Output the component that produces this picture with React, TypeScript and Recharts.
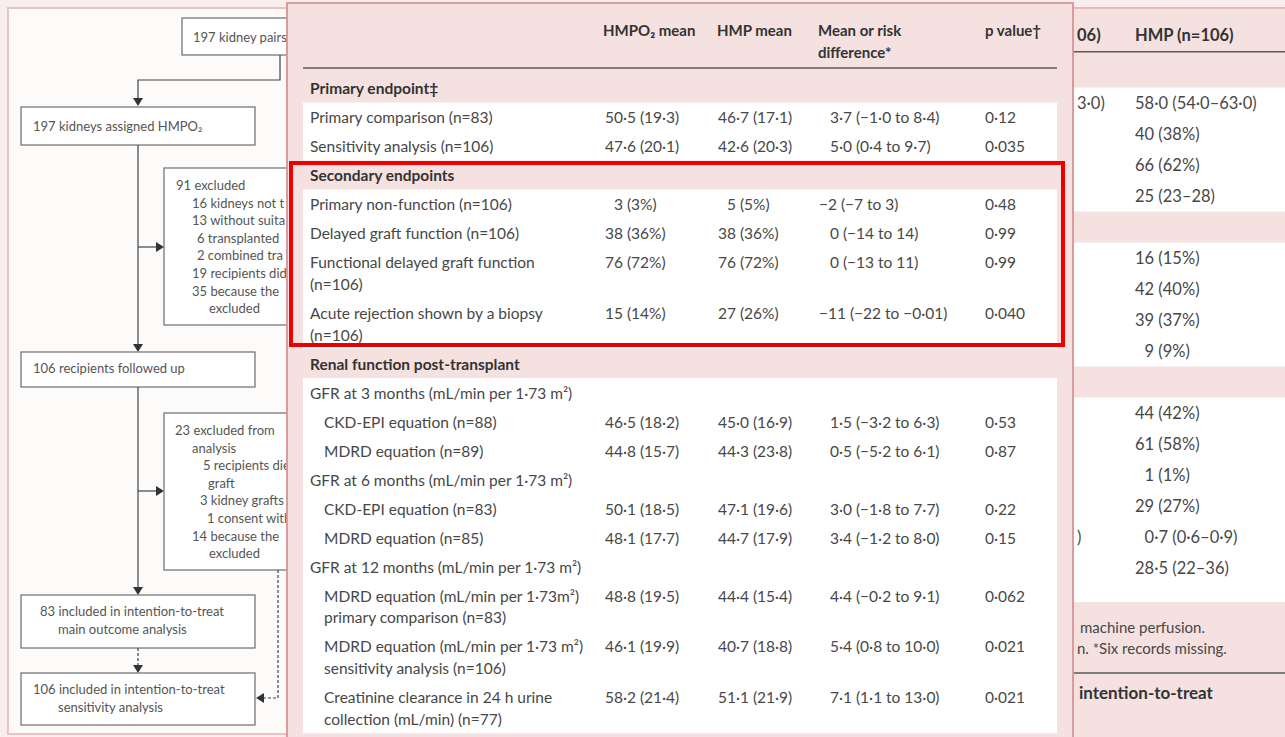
import { ScatterChart, Scatter, XAxis, YAxis, ReferenceArea, ReferenceLine } from "recharts";

const FONT = "Lato, 'Open Sans', sans-serif";
const PINK = "#f4e1e0";
const EDGE = "#d99b9d";
const INK = "#474747";

// main table (middle panel)
const HEADERS = ["HMPO₂ mean", "HMP mean", "Mean or risk\ndifference*", "p value†"];
const ROW_LABELS = [
  "Primary endpoint‡",
  "Primary comparison (n=83)",
  "Sensitivity analysis (n=106)",
  "Secondary endpoints",
  "Primary non-function (n=106)",
  "Delayed graft function (n=106)",
  "Functional delayed graft function\n(n=106)",
  "Acute rejection shown by a biopsy\n(n=106)",
  "Renal function post-transplant",
  "GFR at 3 months (mL/min per 1·73 m²)",
  "CKD-EPI equation (n=88)",
  "MDRD equation (n=89)",
  "GFR at 6 months (mL/min per 1·73 m²)",
  "CKD-EPI equation (n=83)",
  "MDRD equation (n=85)",
  "GFR at 12 months (mL/min per 1·73 m²)",
  "MDRD equation (mL/min per 1·73m²)\nprimary comparison (n=83)",
  "MDRD equation (mL/min per 1·73 m²)\nsensitivity analysis (n=106)",
  "Creatinine clearance in 24 h urine\ncollection (mL/min) (n=77)",
];
const ROW_KIND = [
  "section", "item", "item", "section", "item", "item", "item", "item",
  "section", "group", "sub", "sub", "group", "sub", "sub", "group", "sub", "sub", "sub",
];
const HMPO2_MEAN = [
  null, "50·5 (19·3)", "47·6 (20·1)", null, "\u20073 (3%)", "38 (36%)", "76 (72%)", "15 (14%)",
  null, null, "46·5 (18·2)", "44·8 (15·7)", null, "50·1 (18·5)", "48·1 (17·7)", null,
  "48·8 (19·5)", "46·1 (19·9)", "58·2 (21·4)",
];
const HMP_MEAN = [
  null, "46·7 (17·1)", "42·6 (20·3)", null, "\u20075 (5%)", "38 (36%)", "76 (72%)", "27 (26%)",
  null, null, "45·0 (16·9)", "44·3 (23·8)", null, "47·1 (19·6)", "44·7 (17·9)", null,
  "44·4 (15·4)", "40·7 (18·8)", "51·1 (21·9)",
];
const DIFFERENCE = [
  null, "3·7 (−1·0 to 8·4)", "5·0 (0·4 to 9·7)", null, "−2 (−7 to 3)", "0 (−14 to 14)",
  "0 (−13 to 11)", "−11 (−22 to −0·01)", null, null, "1·5 (−3·2 to 6·3)", "0·5 (−5·2 to 6·1)",
  null, "3·0 (−1·8 to 7·7)", "3·4 (−1·2 to 8·0)", null, "4·4 (−0·2 to 9·1)",
  "5·4 (0·8 to 10·0)", "7·1 (1·1 to 13·0)",
];
const P_VALUE = [
  null, "0·12", "0·035", null, "0·48", "0·99", "0·99", "0·040", null, null, "0·53", "0·87",
  null, "0·22", "0·15", null, "0·062", "0·021", "0·021",
];

// partly hidden table on the right
const RIGHT_HEADER = "HMP (n=106)";
const RIGHT_HEADER_CUT = "06)";
const RIGHT_HMP = [
  "58·0 (54·0–63·0)", "40 (38%)", "66 (62%)", "25 (23–28)", null,
  "16 (15%)", "42 (40%)", "39 (37%)", "\u20079 (9%)", null,
  "44 (42%)", "61 (58%)", "\u20071 (1%)", "29 (27%)", "\u20070·7 (0·6–0·9)", "28·5 (22–36)",
];
const RIGHT_CUT = [
  "3·0)", null, null, null, null, null, null, null, null, null,
  null, null, null, null, ")", null,
];
const RIGHT_FOOTNOTES = ["machine perfusion.", "n. *Six records missing."];
const RIGHT_NEXT_TITLE = "intention-to-treat";

// flow chart text (only the part left visible beside the table)
const EXCLUDED_91 = [
  "91 excluded", "16 kidneys not t", "13 without suita", "6 transplanted",
  "2 combined tra", "19 recipients did", "35 because the", "excluded",
];
const EXCLUDED_23 = [
  "23 excluded from", "analysis", "5 recipients die", "graft",
  "3 kidney grafts", "1 consent withd", "14 because the", "excluded",
];

// layout
const ROW_PX = 29;
const FIRST_ROW_PX = 88;
const MID_W = 785;
const MID_H = 737;
const COL_X = { label: 7, sub: 21, hmpo: 302, hmp: 415, diff: 527, p: 682 };
const HEAD_X = [300, 414, 515, 682];
const TABLE_FS = 15.5;

const R_ROW_PX = 31;
const R_FIRST_PX = 103;
const R_W = 211;

const rows = (() => {
  let start = -0.5;
  return ROW_LABELS.map((label, i) => {
    const pos = start + 0.5;
    start += label.includes("\n") ? 1.75 : 1;
    return { i, label, kind: ROW_KIND[i], pos };
  });
})();

const gap = ROW_PX * 0.75;

const labelPts = rows.map((r) => ({
  x: r.kind === "sub" ? COL_X.sub : COL_X.label,
  y: r.pos,
  text: r.label,
  bold: r.kind === "section",
  gap,
  size: TABLE_FS,
}));

const colPts = (vals: (string | null)[], x: number) =>
  rows
    .filter((r) => vals[r.i] != null)
    .map((r) => ({
      x,
      y: r.pos,
      text: vals[r.i] as string,
      dx: x === COL_X.diff && (vals[r.i] as string).startsWith("−") ? -11 : 0,
      gap,
      size: TABLE_FS,
    }));

const headPts = HEADERS.map((h, k) => ({ x: HEAD_X[k], y: -2, text: h, bold: true, gap, size: 15 }));

// row spans for white bands / red box
const rowTop = (i: number) => rows[i].pos - 0.5;
const rowBottom = (i: number) => rows[i].pos - 0.5 + (rows[i].label.includes("\n") ? 1.75 : 1);

const Cell = (props: any) => {
  const { cx, cy, payload } = props;
  const lines = String(payload.text).split("\n");
  const size = payload.size ?? 15;
  return (
    <text
      fontFamily={FONT}
      fontSize={size}
      fontWeight={payload.bold ? 700 : 400}
      fill={payload.bold ? "#333" : INK}
    >
      {lines.map((l, k) => (
        <tspan key={k} x={cx + (payload.dx ?? 0)} y={cy + k * (payload.gap ?? 0)} dominantBaseline="central">
          {l}
        </tspan>
      ))}
    </text>
  );
};

function MainTable() {
  const yMin = -FIRST_ROW_PX / ROW_PX;
  const yMax = (MID_H - FIRST_ROW_PX) / ROW_PX;
  return (
    <ScatterChart width={MID_W} height={MID_H} margin={{ top: 0, right: 0, bottom: 0, left: 0 }}>
      <XAxis type="number" dataKey="x" domain={[-16, MID_W - 16]} allowDataOverflow hide />
      <YAxis type="number" dataKey="y" domain={[yMin, yMax]} allowDataOverflow reversed hide />
      <ReferenceArea x1={0} x2={754} y1={rowTop(1)} y2={rowBottom(2)} fill="#fff" fillOpacity={1} />
      <ReferenceArea x1={0} x2={754} y1={rowTop(4)} y2={rowBottom(7)} fill="#fff" fillOpacity={1} />
      <ReferenceArea x1={0} x2={754} y1={rowTop(9)} y2={rowBottom(18)} fill="#fff" fillOpacity={1} />
      <ReferenceLine
        segment={[{ x: 0, y: -0.69 }, { x: 754, y: -0.69 }]}
        stroke="#5a5a5a"
        strokeWidth={1.5}
      />
      <ReferenceArea
        x1={-12}
        x2={760}
        y1={rowTop(3) + 0.09}
        y2={rowBottom(7) - 0.14}
        fill="none"
        stroke="#ee0000"
        strokeWidth={4}
      />
      <Scatter data={headPts} shape={Cell} isAnimationActive={false} />
      <Scatter data={labelPts} shape={Cell} isAnimationActive={false} />
      <Scatter data={colPts(HMPO2_MEAN, COL_X.hmpo)} shape={Cell} isAnimationActive={false} />
      <Scatter data={colPts(HMP_MEAN, COL_X.hmp)} shape={Cell} isAnimationActive={false} />
      <Scatter data={colPts(DIFFERENCE, COL_X.diff)} shape={Cell} isAnimationActive={false} />
      <Scatter data={colPts(P_VALUE, COL_X.p)} shape={Cell} isAnimationActive={false} />
    </ScatterChart>
  );
}

function RightTable() {
  const yMin = -R_FIRST_PX / R_ROW_PX;
  const yMax = (MID_H - R_FIRST_PX) / R_ROW_PX;
  const values = RIGHT_HMP.map((t, i) => ({ x: 61, y: i, text: t, size: 16.5 })).filter((d) => d.text != null);
  const cuts = RIGHT_CUT.map((t, i) => ({ x: 3, y: i, text: t, size: 16.5 })).filter((d) => d.text != null);
  const head = [
    { x: 3, y: -2.19, text: RIGHT_HEADER_CUT, bold: true, size: 16.5 },
    { x: 61, y: -2.19, text: RIGHT_HEADER, bold: true, size: 16.5 },
  ];
  const foot = [
    { x: 6, y: 16.9, text: RIGHT_FOOTNOTES[0], size: 15 },
    { x: 3, y: 17.58, text: RIGHT_FOOTNOTES[1], size: 15 },
    { x: 5, y: 19.03, text: RIGHT_NEXT_TITLE, bold: true, size: 17 },
  ];
  return (
    <ScatterChart width={R_W} height={MID_H} margin={{ top: 0, right: 0, bottom: 0, left: 0 }}>
      <XAxis type="number" dataKey="x" domain={[0, R_W]} allowDataOverflow hide />
      <YAxis type="number" dataKey="y" domain={[yMin, yMax]} allowDataOverflow reversed hide />
      <ReferenceArea y1={-0.5} y2={3.5} fill="#fff" fillOpacity={1} />
      <ReferenceArea y1={4.5} y2={8.5} fill="#fff" fillOpacity={1} />
      <ReferenceArea y1={9.5} y2={16.1} fill="#fff" fillOpacity={1} />
      <ReferenceLine y={-1.65} stroke="#5a5a5a" strokeWidth={1.5} />
      <ReferenceLine y={18.39} stroke="#5a5a5a" strokeWidth={1.5} />
      <Scatter data={head} shape={Cell} isAnimationActive={false} />
      <Scatter data={values} shape={Cell} isAnimationActive={false} />
      <Scatter data={cuts} shape={Cell} isAnimationActive={false} />
      <Scatter data={foot} shape={Cell} isAnimationActive={false} />
    </ScatterChart>
  );
}

function Arrow({ x, y, dir }: { x: number; y: number; dir: "down" | "right" | "left" }) {
  const s = 5;
  const pts =
    dir === "down"
      ? `${x - s},${y - 8} ${x + s},${y - 8} ${x},${y}`
      : dir === "right"
      ? `${x - 8},${y - s} ${x - 8},${y + s} ${x},${y}`
      : `${x + 8},${y - s} ${x + 8},${y + s} ${x},${y}`;
  return <polygon points={pts} fill="#333" />;
}

const INDENT_91 = [0, 16, 16, 21, 21, 16, 16, 33];
const INDENT_23 = [0, 17, 28, 33, 25, 32, 17, 34];

function FlowChart() {
  const box = { fill: "#fff", stroke: "#6d6d6d", strokeWidth: 1.2 };
  const line = { stroke: "#444", strokeWidth: 1.2, fill: "none" };
  const dash = { ...line, strokeDasharray: "3 2" };
  const t = { fontFamily: FONT, fontSize: 13, fill: "#555" };
  const lines = (x0: number, y0: number, items: string[], indent: number[]) =>
    items.map((s, k) => (
      <text key={k} x={x0 + indent[k]} y={y0 + k * 17.6} {...t}>
        {s}
      </text>
    ));
  return (
    <svg width={287} height={737} style={{ position: "absolute", left: 0, top: 0 }}>
      <rect x={182} y={18} width={200} height={37} {...box} />
      <text x={193} y={42} {...t}>197 kidney pairs</text>
      <polyline points="280,55 280,80 138,80 138,104" {...line} />
      <Arrow x={138} y={106} dir="down" />

      <rect x={21} y={107} width={234} height={38} {...box} />
      <text x={33} y={131} {...t}>197 kidneys assigned HMPO₂</text>
      <line x1={138} y1={145} x2={138} y2={350} {...line} />
      <Arrow x={138} y={352} dir="down" />
      <line x1={138} y1={247} x2={160} y2={247} {...line} />
      <Arrow x={164} y={247} dir="right" />

      <rect x={164} y={168} width={200} height={157} {...box} />
      {lines(176, 190, EXCLUDED_91, INDENT_91)}

      <rect x={21} y={352} width={234} height={35} {...box} />
      <text x={33} y={373} {...t}>106 recipients followed up</text>
      <line x1={138} y1={387} x2={138} y2={592} {...line} />
      <Arrow x={138} y={595} dir="down" />
      <line x1={138} y1={491} x2={160} y2={491} {...line} />
      <Arrow x={164} y={491} dir="right" />

      <rect x={164} y={413} width={200} height={157} {...box} />
      {lines(175, 435, EXCLUDED_23, INDENT_23)}

      <rect x={21} y={595} width={234} height={53} {...box} />
      <text x={40} y={616} {...t}>83 included in intention-to-treat</text>
      <text x={58} y={634} {...t}>main outcome analysis</text>
      <line x1={138} y1={648} x2={138} y2={668} {...dash} />
      <Arrow x={138} y={673} dir="down" />

      <rect x={21} y={673} width={234} height={52} {...box} />
      <text x={33} y={694} {...t}>106 included in intention-to-treat</text>
      <text x={58} y={712} {...t}>sensitivity analysis</text>
      <polyline points="278,570 278,698 262,698" {...dash} />
      <Arrow x={256} y={698} dir="left" />
    </svg>
  );
}

export default function App() {
  return (
    <div
      style={{
        position: "absolute",
        left: 0,
        top: 0,
        width: 1285,
        height: 737,
        overflow: "hidden",
        background: "#f9eeee",
      }}
    >
      {/* left panel: flow chart */}
      <div
        style={{
          position: "absolute",
          left: 7,
          top: 7,
          width: 290,
          height: 728,
          boxSizing: "border-box",
          background: "#fdfafa",
          border: "2px solid #ecc3c3",
        }}
      />
      <FlowChart />

      {/* right panel */}
      <div
        style={{
          position: "absolute",
          left: 1074,
          top: 7,
          width: 211,
          height: 730,
          boxSizing: "border-box",
          background: PINK,
          borderTop: "2px solid #eab9b9",
        }}
      />
      <div style={{ position: "absolute", left: 1074, top: 0 }}>
        <RightTable />
      </div>

      {/* middle panel */}
      <div
        style={{
          position: "absolute",
          left: 286,
          top: 2,
          width: 788,
          height: 740,
          boxSizing: "border-box",
          background: PINK,
          borderLeft: `2px solid ${EDGE}`,
          borderRight: `2px solid ${EDGE}`,
          borderTop: `2px solid ${EDGE}`,
        }}
      />
      <div style={{ position: "absolute", left: 287, top: 0 }}>
        <MainTable />
      </div>
    </div>
  );
}
